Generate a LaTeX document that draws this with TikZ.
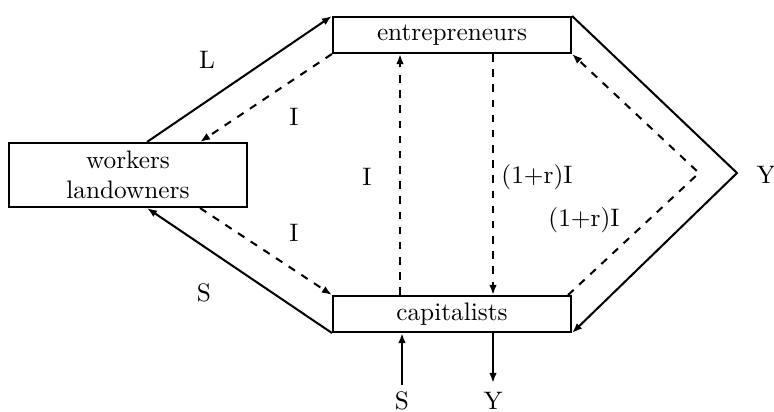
\documentclass[tikz,border=0pt]{standalone}
\usetikzlibrary{calc,arrows.meta}
\tikzset{
  box/.style={draw,thick,minimum width=3.31cm,minimum height=0.5cm,inner sep=0pt},
  flow/.style={thick,-{Latex[length=4pt,width=3pt]}}
}
\begin{document}
\begin{tikzpicture}[x=0.0139cm,y=-0.0139cm]
\useasboundingbox (0,0) rectangle (774,412);
\node[box] (ent) at (452,35) {entrepreneurs};
\node[box,minimum height=0.89cm,align=center] (work) at (128,175) {workers\\landowners};
\node[box] (cap) at (452,314) {capitalists};
\coordinate (Ytip) at (737,173); \coordinate (Ydash) at (699,173);
\coordinate (Sin) at (402,385); \coordinate (Yout) at (493,383);
\draw[flow] ($(work.north)+(19,0)$) -- (ent.north west);
\draw[flow,dashed] (ent.south west) -- ($(work.north)+(72,0)$);
\draw[flow] (cap.south west) -- ($(work.south)+(19,0)$);
\draw[flow,dashed] ($(work.south)+(72,0)$) -- (cap.north west);
\draw[flow,dashed] ($(cap.north)+(-52,0)$) -- ($(ent.south)+(-52,0)$);
\draw[flow,dashed] ($(ent.south)+(41,0)$) -- ($(cap.north)+(41,0)$);
\draw[flow] (ent.north east) -- (Ytip) -- (cap.south east);
\draw[flow,dashed] ($(cap.north east)+(-4,0)$) -- (Ydash) -- (ent.south east);
\draw[flow] (Sin) -- (cap.south -| Sin);
\draw[flow] (cap.south -| Yout) -- (Yout);
\foreach \x/\y/\t [count=\i] in {207/60/L,294/117/I,367/177/I,537/177/(1+r)I,584/220/(1+r)I,
  294/233/I,204/293/S,766/175/Y,402/401/S,493/401/Y}{\node[inner sep=1pt] (lab\i) at (\x,\y) {\t};}
\end{tikzpicture}
\end{document}
